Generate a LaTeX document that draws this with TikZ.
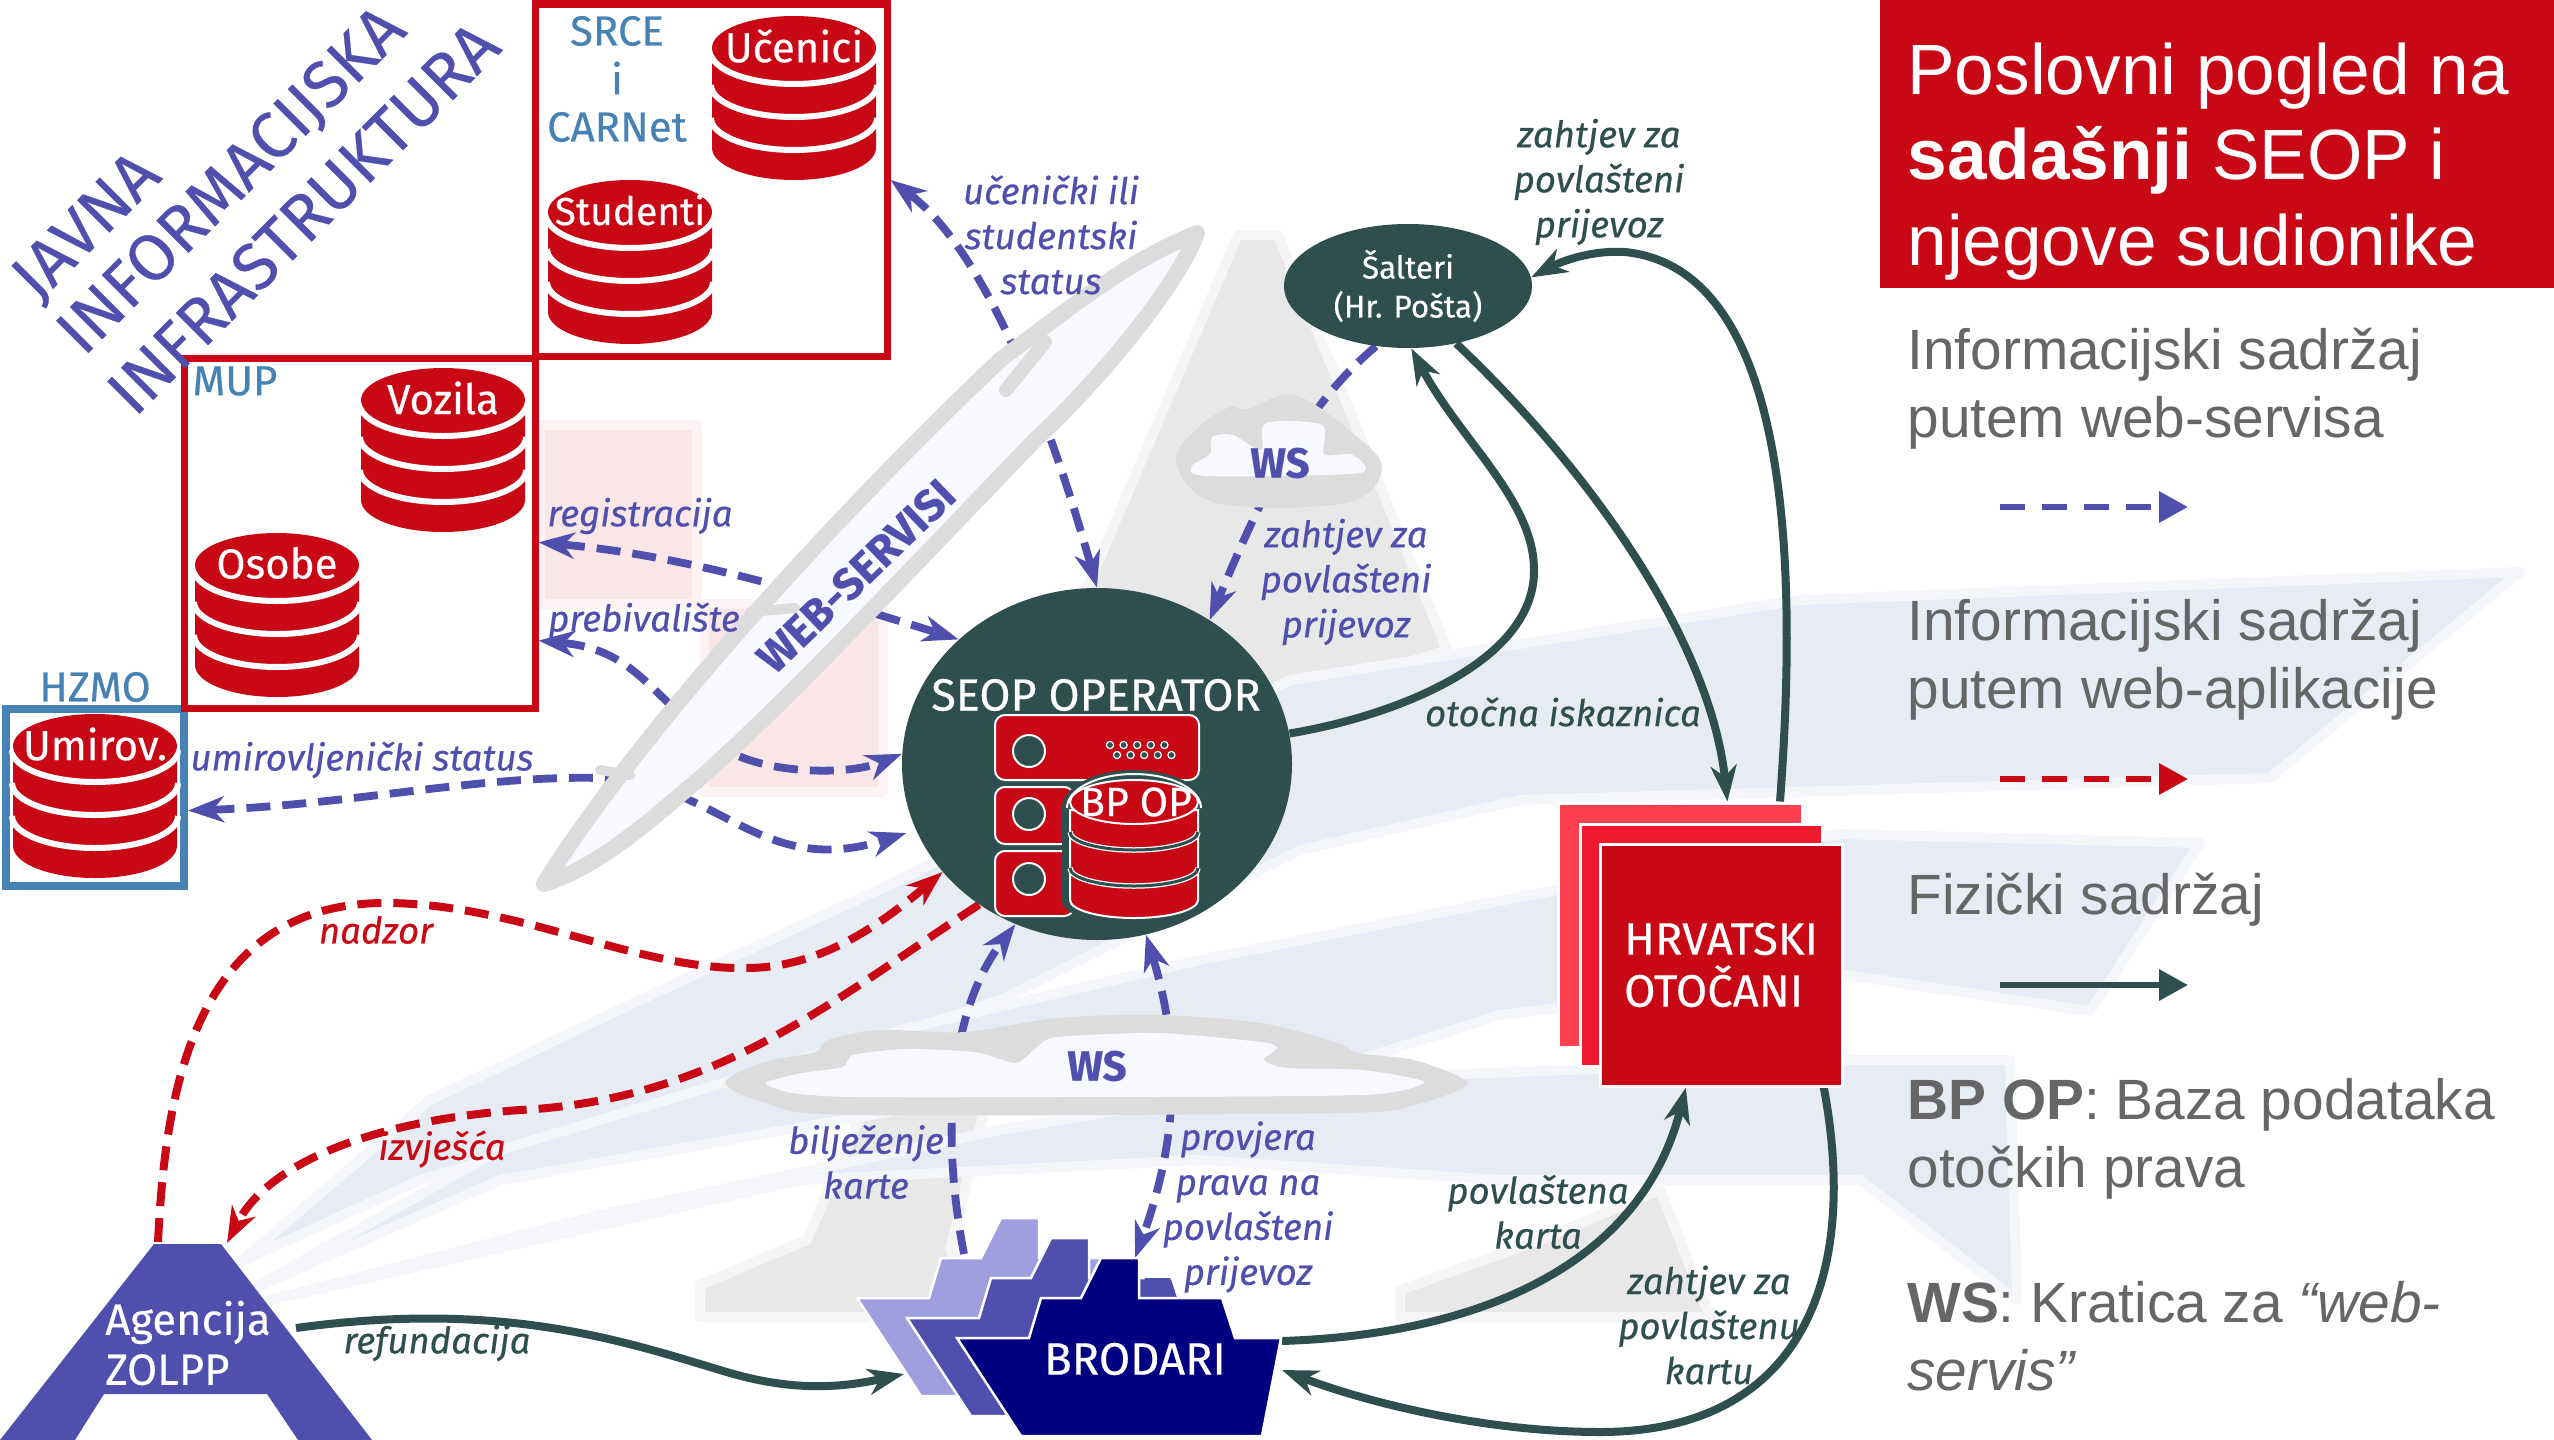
\documentclass[tikz,border=0pt]{standalone}
\usepackage{fontspec}
\setmainfont{Fira Sans}[FakeBold=0.4]
\newfontfamily\arialf{Liberation Sans}
\usetikzlibrary{arrows.meta,shapes.geometric,calc}
\definecolor{dbred}{HTML}{C80815}
\definecolor{darkg}{HTML}{2F4F4F}
\definecolor{purp}{HTML}{4F4FAE}
\definecolor{lpurp}{HTML}{9F9FDF}
\definecolor{navyb}{HTML}{000080}
\definecolor{steel}{HTML}{4682B4}
\definecolor{grey1}{HTML}{DCDCDC}
\definecolor{ghost}{HTML}{F8F8FF}
\definecolor{streak}{HTML}{E7EBF3}
\definecolor{wmgray}{HTML}{E8E8E8}
\definecolor{pinkb}{HTML}{FAE5E7}
\definecolor{gtext}{HTML}{666666}
\definecolor{sheeta}{HTML}{FF4050}
\definecolor{sheetb}{HTML}{F01A2E}
\pgfdeclarelayer{bg}\pgfdeclarelayer{conn}\pgfsetlayers{bg,conn,main}
\tikzset{
 lbl/.style={font=\fontsize{18.3}{22.5}\selectfont\itshape,align=center,inner sep=0pt},
 lblp/.style={lbl,text=purp},
 lblg/.style={lbl,text=darkg},
 lblr/.style={lbl,text=dbred},
 dblabel/.style={text=white,inner sep=0pt,font=\fontsize{21}{24}\selectfont},
 orglabel/.style={text=steel,inner sep=0pt,font=\fontsize{21}{24}\selectfont},
 bigt/.style={text=purp,inner sep=0pt,rotate=45,font=\fontsize{33}{38}\selectfont},
 info/.style={line width=3.9pt,purp,dash pattern=on 12pt off 6pt},
 appl/.style={line width=4pt,dbred,dash pattern=on 12pt off 6pt},
 phys/.style={line width=4pt,darkg},
 tip/.tip={Stealth[length=18pt,width=13pt,inset=5.5pt]},
 orgbox/.style={draw,rectangle,inner sep=0pt,line width=3.5pt},
 cloudo/.style={fill=grey1,draw=none},
 cloudi/.style={fill=ghost,draw=none},
 srv/.style={fill=dbred,draw=white,line width=1pt,rounded corners=5pt},
 srvh/.style={fill=darkg,draw=white,line width=1pt},
 sheet/.style={draw=white,line width=1.5pt,rectangle,inner sep=0pt},
 shipb/.style={draw=white,line width=1.25pt},
 title/.style={text=white,inner sep=0pt,anchor=base west,font=\fontsize{35.6}{43}\selectfont\arialf},
 legend/.style={text=gtext,inner sep=0pt,anchor=base west,align=left,font=\fontsize{28.4}{33.75}\selectfont\arialf},
 legarrow/.style={line width=3.2pt},
 soft/.style={fill=#1,draw=#1!45,line width=5pt,line join=round},
 nodetext/.style={text=white,inner sep=0pt},
}
\newcommand\dbcyl[4]{%
 \begin{scope}[shift={(#2,#3)}]
  \fill[dbred] (-82,40) -- (-82,132) arc[start angle=180,end angle=360,x radius=41pt,y radius=16pt] -- (82,40) -- cycle;
  \foreach \yy in {36,69,102}{\draw[white,line width=3pt] (-83,\yy) arc[start angle=180,end angle=360,x radius=41.5pt,y radius=16pt];}
  \fill[dbred] (0,32) ellipse[x radius=41pt,y radius=16pt];
  \node[dblabel] (#1) at (0,30) {#4};
 \end{scope}}
\newcommand\shippath{(957,1338) -- (1029,1338) -- (1041,1298) -- (1081,1298) -- (1101,1258) -- (1139,1258) -- (1139,1298) -- (1222,1298) -- (1235,1338) -- (1281,1338) -- (1262,1436) -- (1021,1436) -- cycle}
\begin{document}
\begin{tikzpicture}[x=0.5pt,y=-0.5pt]
\useasboundingbox (0,0) rectangle (2554,1440);
\begin{pgfonlayer}{bg}
 \fill[white] (0,0) rectangle (2554,1440);
 % watermark
 \path[soft=pinkb] (540,425) rectangle (697,604);
 \path[soft=pinkb] (704,604) rectangle (883,792);
 \path[soft=wmgray] (1238,235) -- (1278,235) -- (1447,650) -- (1290,700) -- (1016,980) -- (950,1250) -- (1000,1317) -- (700,1317) -- (700,1285) -- (807,1240) -- (1096,567) -- cycle;
 \path[soft=wmgray] (1400,1290) -- (1400,1317) -- (1710,1317) -- (1660,1190) -- (1540,1240) -- cycle;
 \path[soft=streak] (2520,572) -- (2270,778) -- (1520,800) -- (1300,850) -- (1000,1000) -- (700,1100) -- (420,1180) -- (240,1262) -- (430,1100) -- (640,1000) -- (900,880) -- (1290,680) -- (1800,600) -- cycle;
 \path[soft=streak] (2200,843) -- (2090,1011) -- (1840,974) -- (1500,1015) -- (1200,1110) -- (900,1110) -- (500,1180) -- (250,1290) -- (500,1150) -- (900,1030) -- (1200,960) -- (1840,834) -- cycle;
 \path[soft=streak] (1840,1060) -- (2010,1060) -- (2017,1300) -- (1860,1180) -- (1500,1180) -- (1200,1160) -- (800,1180) -- (270,1300) -- (600,1215) -- (1000,1130) -- (1300,1080) -- cycle;
\end{pgfonlayer}

% panel
\fill[dbred] (1880,0) rectangle (2554,288);
\node[title] (t1) at (1907,94) {Poslovni pogled na};
\node[title] (t2) at (1907,179) {\textbf{sadašnji} SEOP i};
\node[title] (t3) at (1907,265) {njegove sudionike};
\node[legend] (l1) at (1907,437) {Informacijski sadržaj\\putem web-servisa};
\node[legend] (l2) at (1907,708) {Informacijski sadržaj\\putem web-aplikacije};
\node[legend] (l3) at (1907,914) {Fizički sadržaj};
\node[legend] (l4) at (1907,1187) {\textbf{BP OP}: Baza podataka\\otočkih prava};
\node[legend] (l5) at (1907,1390) {\textbf{WS}: Kratica za \textit{“web-}\\\textit{servis”}};
\coordinate (lg1a) at (2000,507); \coordinate (lg1b) at (2188,507);
\coordinate (lg2a) at (2000,779); \coordinate (lg2b) at (2188,779);
\coordinate (lg3a) at (2000,985); \coordinate (lg3b) at (2188,985);
\draw[legarrow,purp,dash pattern=on 12.5pt off 8.5pt,-{Triangle[length=14.5pt,width=15pt]}] (lg1a) -- (lg1b);
\draw[legarrow,dbred,dash pattern=on 12.5pt off 8.5pt,-{Triangle[length=14.5pt,width=15pt]}] (lg2a) -- (lg2b);
\draw[legarrow,darkg,-{Triangle[length=14.5pt,width=15pt]}] (lg3a) -- (lg3b);

% organisations
\node[orgbox,draw=steel,line width=4pt,minimum width=89pt,minimum height=88.5pt] (hzmo) at (95,797.5) {};
\node[orgbox,draw=dbred,minimum width=175.5pt,minimum height=175pt] (mup) at (359.5,533) {};
\node[orgbox,draw=dbred,minimum width=176pt,minimum height=176pt] (srce) at (711,180) {};
\node[orglabel] (osrce) at (617,31) {SRCE};
\node[orglabel] (oi) at (617,78) {i};
\node[orglabel] (ocarnet) at (617,127) {CARNet};
\node[orglabel] (omup) at (235,381) {MUP};
\node[orglabel] (ohzmo) at (95,687) {HZMO};
\node[bigt] (jv1) at (88,228) {JAVNA};
\node[bigt] (jv2) at (233,182) {INFORMACIJSKA};
\node[bigt] (jv3) at (303,218) {INFRASTRUKTURA};
\dbcyl{ucenici}{794}{16}{Učenici}
\dbcyl{studenti}{630}{180}{\fontsize{19.5}{24}\selectfont Studenti}
\dbcyl{vozila}{443}{368}{Vozila}
\dbcyl{osobe}{277}{533}{Osobe}
\dbcyl{umirov}{95}{714}{Umirov.}

% main actors
\node[ellipse,fill=darkg,minimum width=195pt,minimum height=176pt,inner sep=0pt] (seop) at (1097,764) {};
\node[nodetext,font=\fontsize{22.5}{24}\selectfont] (seoplbl) at (1096,695) {SEOP OPERATOR};
\draw[srv] (995,715) rectangle (1199,780);
\draw[srv] (995,787) rectangle (1074,844);
\draw[srv] (995,851) rectangle (1074,916);
\foreach \yy in {751,814,879}{\draw[srvh] (1029,\yy) circle[radius=8pt];}
\foreach \i in {0,1,2,3,4}{
 \draw[srvh,line width=.6pt] (1110+\i*13.6,745) circle[radius=1.8pt];
 \draw[srvh,line width=.6pt] (1117+\i*13.6,755) circle[radius=1.8pt];}
\fill[darkg] (1062,808) arc[start angle=180,end angle=0,x radius=36pt,y radius=19pt] -- (1206,900) arc[start angle=0,end angle=-180,x radius=36pt,y radius=13pt] -- cycle;
\draw[white,line width=1pt] (1067,808) arc[start angle=180,end angle=0,x radius=33.5pt,y radius=17pt];
\draw[fill=dbred,draw=white,line width=1pt] (1070,810) -- (1070,900) arc[start angle=180,end angle=360,x radius=32pt,y radius=9pt] -- (1198,810) -- cycle;
\foreach \yy in {832,868}{
 \draw[white,line width=2.75pt] (1070,\yy) arc[start angle=180,end angle=360,x radius=32pt,y radius=9pt];
 \draw[darkg,line width=1.5pt] (1070,\yy) arc[start angle=180,end angle=360,x radius=32pt,y radius=9pt];}
\draw[fill=dbred,draw=white,line width=1pt] (1134,802) ellipse[x radius=32pt,y radius=11pt];
\node[nodetext,font=\fontsize{20.5}{22}\selectfont] (bpop) at (1136,802) {BP OP};

\node[ellipse,fill=darkg,text=white,minimum width=124pt,minimum height=62pt,inner sep=0pt,align=center,font=\fontsize{15.7}{19.5}\selectfont] (salteri) at (1408,286) {Šalteri\\(Hr. Pošta)};

\node[sheet,fill=sheeta,minimum width=122pt,minimum height=122pt] (hrvback) at (1680,925) {};
\node[sheet,fill=sheetb,minimum width=121pt,minimum height=121pt] (hrvmid) at (1701,945) {};
\node[sheet,fill=dbred,text=white,minimum width=121pt,minimum height=121pt,align=left,font=\fontsize{22.7}{26}\selectfont] (hrv) at (1721,965) {HRVATSKI\\OTOČANI};

% ships
\draw[shipb,fill=lpurp,shift={(-100,-40)}] \shippath;
\draw[shipb,fill=purp,shift={(-50,-20)}] \shippath;
\fill[purp] (1145,1278) -- (1170,1278) -- (1175,1298) -- (1143,1298) -- cycle;
\draw[shipb,fill=navyb] \shippath;
\node[nodetext,font=\fontsize{22.7}{24}\selectfont] (brodari) at (1135,1359) {BRODARI};

% agency
\fill[purp] (154,1244) -- (221,1244) -- (372,1440) -- (298,1440) -- (267,1394) -- (104,1394) -- (75,1440) -- (0,1440) -- cycle;
\node[nodetext,align=left,font=\fontsize{21.8}{25}\selectfont] (agency) at (188,1343) {Agencija\\ZOLPP};

% clouds
\draw[fill=ghost,draw=grey1,line width=8pt,line join=round] (544,884) .. controls (620,760) and (800,550) .. (1000,360) .. controls (1080,300) and (1130,260) .. (1197,233) .. controls (1180,280) and (1110,370) .. (1035,440) .. controls (900,580) and (760,730) .. (680,795) .. controls (640,830) and (590,870) .. (544,884) -- cycle;
\draw[grey1,line width=7pt,line cap=round] (1006,390) -- (1045,342);
\draw[grey1,line width=5pt,line cap=round] (750,612) -- (795,608);
\draw[grey1,line width=5pt,line cap=round] (600,770) -- (630,775);
\node[text=purp,inner sep=0pt,rotate=44,font=\fontsize{22}{24}\selectfont\bfseries] (webs) at (856,576) {WEB-SERVISI};

\draw[cloudo] plot[smooth cycle,tension=.6] coordinates {(1217,503) (1345,503) (1382,468) (1350,431) (1294,395) (1248,409) (1230,407) (1199,427) (1176,462)};
\draw[cloudi] plot[smooth cycle,tension=.5] coordinates {(1192,466) (1210,454) (1212,437) (1233,435) (1261,450) (1266,423) (1322,425) (1324,454) (1350,454) (1365,466) (1350,474) (1207,476)};
\node[text=purp,inner sep=0pt,font=\fontsize{21}{24}\selectfont\bfseries] (wstop) at (1280,463) {WS};

\draw[cloudo] plot[smooth cycle,tension=.5] coordinates {(725,1083) (761,1063) (815,1052) (828,1040) (879,1030) (965,1032) (1057,1018) (1159,1015) (1261,1023) (1338,1043) (1358,1053) (1414,1060) (1460,1077) (1465,1087) (1414,1105) (1338,1113) (853,1115) (766,1103)};
\draw[cloudi] plot[smooth cycle,tension=.4] coordinates {(766,1083) (802,1073) (843,1067) (853,1055) (904,1049) (975,1052) (1016,1063) (1037,1047) (1057,1037) (1159,1033) (1261,1042) (1277,1048) (1264,1060) (1287,1068) (1363,1070) (1424,1082) (1363,1095) (1057,1097) (853,1097) (792,1093)};
\node[text=purp,inner sep=0pt,font=\fontsize{21}{24}\selectfont\bfseries] (wsbot) at (1097,1066) {WS};

% free-end coordinates
\coordinate (agN) at (158,1242);
\coordinate (agT) at (227,1243);
\coordinate (agR) at (296,1328);
\coordinate (shipL) at (904,1374);
\coordinate (shipT1) at (964,1254);
\coordinate (shipT2) at (1135,1258);
\coordinate (shipR1) at (1282,1341);
\coordinate (shipR2) at (1282,1370);

% connectors
\begin{pgfonlayer}{conn}
 \draw[info,{tip}-{tip}] (srce.east) .. controls (985,250) and (1050,420) .. (seop.90);
 \draw[info,{tip}-{tip}] (mup.-3.5) .. controls (680,555) and (800,590) .. (seop.138);
 \draw[info,{tip}-{tip}] (mup.-31.8) .. controls (640,650) and (650,700) .. (726,750) .. controls (770,775) and (850,775) .. (seop.177);
 \draw[info,{tip}-{tip},shorten >=5pt] (hzmo.-8.8) .. controls (350,805) and (480,775) .. (600,778) .. controls (720,782) and (760,880) .. (seop.200);
 \draw[info,-{tip}] (salteri.242) .. controls (1300,410) and (1260,500) .. (seop.52);
 \draw[info,-{tip}] (shipT1) .. controls (940,1130) and (950,1010) .. (seop.243);
 \draw[info,{tip}-{tip}] (seop.286) .. controls (1175,1030) and (1185,1120) .. (shipT2);
 \draw[appl,-{tip}] (agN) .. controls (165,1100) and (190,900) .. (390,903) .. controls (520,905) and (640,970) .. (746,968) .. controls (820,968) and (880,925) .. (seop.215);
 \draw[appl,-{tip}] (seop.230) .. controls (840,995) and (720,1100) .. (520,1110) .. controls (380,1120) and (270,1160) .. (agT);
 \draw[phys,-{tip}] (agR) .. controls (500,1300) and (620,1340) .. (720,1370) .. controls (790,1392) and (840,1388) .. (shipL);
 \draw[phys,-{tip}] (shipR1) .. controls (1470,1335) and (1640,1270) .. (hrv.254);
 \draw[phys,-{tip}] (hrv.310) .. controls (1860,1280) and (1800,1432) .. (1600,1432) .. controls (1480,1432) and (1360,1400) .. (shipR2);
 \draw[phys,-{tip}] (hrvback.51) .. controls (1795,600) and (1800,270) .. (1625,252) .. controls (1590,250) and (1560,262) .. (salteri.4.5);
 \draw[phys,-{tip}] (salteri.310) .. controls (1590,470) and (1710,640) .. (hrvback.69);
 \draw[phys,-{tip}] (seop.9) .. controls (1400,715) and (1535,660) .. (1534,570) .. controls (1534,500) and (1460,440) .. (salteri.273.5);
\end{pgfonlayer}

% connector labels
\node[lblp] (c1) at (1051,235) {učenički ili\\studentski\\status};
\node[lblp] (c2) at (640,516) {registracija};
\node[lblp] (c3) at (644,621) {prebivalište};
\node[lblp] (c4) at (362,760) {umirovljenički status};
\node[lblp] (c5) at (1346,582) {zahtjev za\\povlašteni\\prijevoz};
\node[lblg] (c6) at (1599,182) {zahtjev za\\povlašteni\\prijevoz};
\node[lblg] (c7) at (1563,712) {otočna iskaznica};
\node[lblr] (c8) at (376,930) {nadzor};
\node[lblr] (c9) at (442,1149) {izvješća};
\node[lblp] (c10) at (866,1162) {bilježenje\\karte};
\node[lblp] (c11) at (1248,1207) {provjera\\prava na\\povlašteni\\prijevoz};
\node[lblg] (c12) at (1538,1212) {povlaštena\\karta};
\node[lblg] (c13) at (1709,1325) {zahtjev za\\povlaštenu\\kartu};
\node[lblg] (c14) at (437,1343) {refundacija};
\end{tikzpicture}
\end{document}
